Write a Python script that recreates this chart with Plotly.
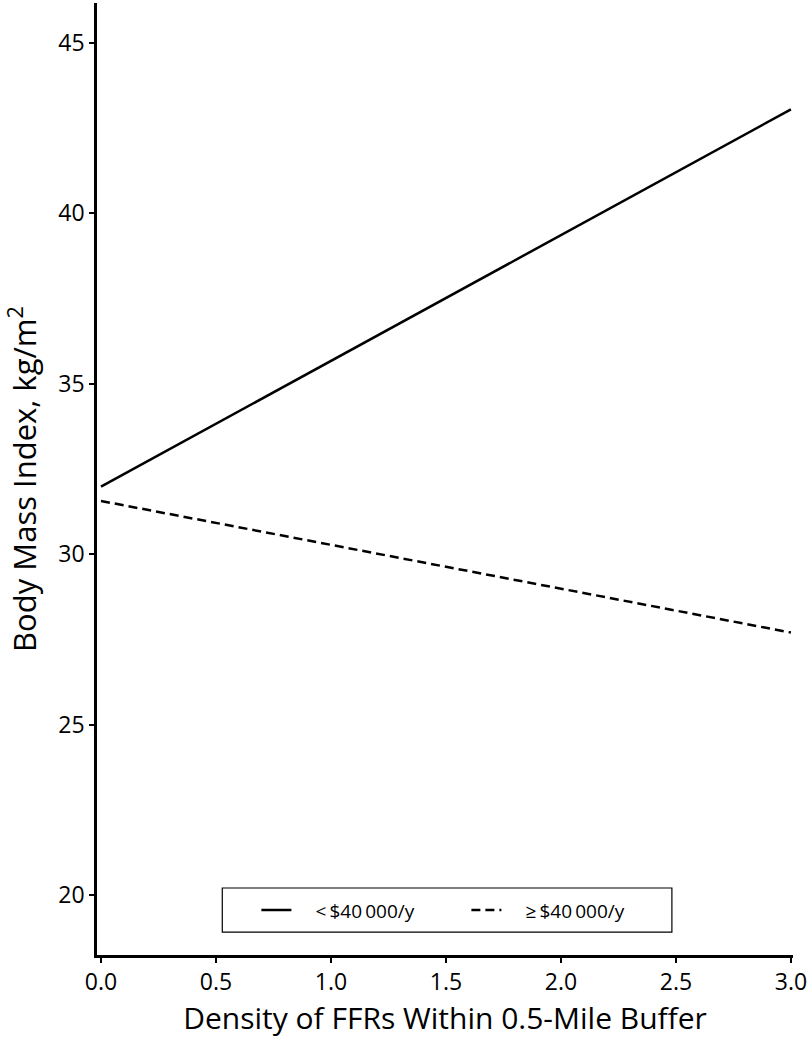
import plotly.graph_objects as go

# Data
density = [0.0, 3.0]
bmi_low_income = [31.98, 43.05]   # < $40 000/y
bmi_high_income = [31.56, 27.70]  # >= $40 000/y
series_names = ["\u2002\u2002&lt;\u2009$40\u2009000/y", "\u2002\u2002\u2265\u2009$40\u2009000/y"]
x_ticks = [0.0, 0.5, 1.0, 1.5, 2.0, 2.5, 3.0]
x_tick_labels = ["0.0", "0.5", "1.0", "1.5", "2.0", "2.5", "3.0"]
y_ticks = [20, 25, 30, 35, 40, 45]

FONT = "Open Sans"

fig = go.Figure()
fig.add_trace(go.Scatter(
    x=density, y=bmi_low_income, mode="lines", name=series_names[0],
    line=dict(color="black", width=2.5, dash="solid"),
))
fig.add_trace(go.Scatter(
    x=density, y=bmi_high_income, mode="lines", name=series_names[1],
    line=dict(color="black", width=2.5, dash="9px,5px"),
))

# legend frame
fig.add_shape(type="rect", xref="paper", yref="paper",
              x0=0.18, x1=0.826, y0=0.024, y1=0.0704,
              line=dict(color="black", width=1.2), fillcolor="rgba(0,0,0,0)")

fig.update_layout(
    width=812, height=1040,
    margin=dict(l=97, r=19, t=3, b=85),
    paper_bgcolor="white", plot_bgcolor="white",
    font=dict(family=FONT, color="black"),
    showlegend=True,
    legend=dict(
        orientation="h", x=0.229, y=0.047, xanchor="left", yanchor="middle",
        bgcolor="rgba(0,0,0,0)", borderwidth=0,
        font=dict(size=19, family=FONT),
        entrywidth=165, entrywidthmode="pixels",
    ),
    xaxis=dict(
        range=[-0.0174, 3.009], tickvals=x_ticks, ticktext=x_tick_labels,
        showgrid=False, zeroline=False, showline=True, linecolor="black", linewidth=2.5,
        ticks="outside", ticklen=5, tickwidth=2, tickcolor="black",
        tickfont=dict(size=23, family=FONT),
        title=dict(text="Density of FFRs Within 0.5-Mile Buffer", font=dict(size=30, family=FONT), standoff=10),
    ),
    yaxis=dict(
        range=[18.24, 46.17], tickvals=y_ticks,
        showgrid=False, zeroline=False, showline=True, linecolor="black", linewidth=2.5,
        ticks="outside", ticklen=5, tickwidth=2, tickcolor="black",
        tickfont=dict(size=23, family=FONT),
        title=dict(text="Body Mass Index, kg/m<sup>2</sup>", font=dict(size=31, family=FONT), standoff=14),
    ),
)

fig.write_html("out.html", config={"displayModeBar": False},
               post_script="document.body.style.margin='0';")
